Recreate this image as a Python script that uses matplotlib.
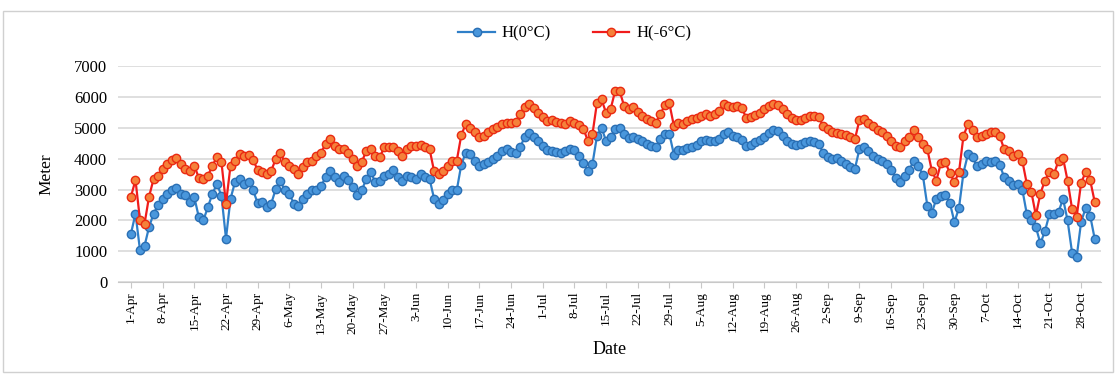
import numpy as np
import matplotlib.pyplot as plt
from matplotlib.patches import Rectangle

# Daily freezing level heights, 1-Apr to 31-Oct (meters)
h_0c = [1570, 2215, 1030, 1170, 1785, 2215, 2500, 2700, 2860, 2970,
        3050, 2860, 2830, 2580, 2750, 2100, 2000, 2430, 2860, 3180,
        2800, 1410, 2700, 3240, 3350, 3180, 3240, 2970, 2560, 2590,
        2430, 2540, 3020, 3290, 2970, 2860, 2540, 2480, 2700, 2860,
        2970, 3000, 3100, 3400, 3610, 3400, 3240, 3450, 3310, 3075,
        2810, 2970, 3340, 3560, 3240, 3290, 3450, 3500, 3630, 3400,
        3290, 3450, 3400, 3340, 3500, 3400, 3340, 2700, 2520, 2650,
        2860, 2970, 2970, 3800, 4200, 4150, 3930, 3770, 3830, 3880,
        3990, 4100, 4240, 4310, 4230, 4200, 4370, 4690, 4830, 4690,
        4580, 4420, 4290, 4260, 4230, 4170, 4240, 4310, 4280, 4100,
        3850, 3610, 3830, 4740, 5000, 4580, 4690, 4960, 5010, 4800,
        4670, 4710, 4630, 4560, 4490, 4420, 4370, 4630, 4800, 4800,
        4130, 4280, 4280, 4330, 4390, 4450, 4560, 4600, 4560, 4580,
        4630, 4800, 4850, 4740, 4710, 4600, 4420, 4450, 4550, 4610,
        4690, 4820, 4920, 4900, 4740, 4580, 4470, 4450, 4470, 4530,
        4560, 4530, 4470, 4200, 4040, 3990, 4020, 3910, 3830, 3740,
        3670, 4310, 4370, 4240, 4100, 3990, 3930, 3830, 3630, 3370,
        3240, 3450, 3630, 3930, 3770, 3480, 2480, 2240, 2700, 2790,
        2810, 2560, 1940, 2400, 3550, 4150, 4040, 3750, 3830, 3910,
        3880, 3930, 3800, 3400, 3290, 3150, 3180, 3000, 2200, 2000,
        1780, 1250, 1650, 2200, 2220, 2270, 2700, 2000, 950, 800,
        1950, 2400, 2150, 1400]

h_m6c = [2770, 3310, 2000, 1890, 2770, 3340, 3450, 3670, 3830, 3960,
         4020, 3830, 3670, 3610, 3770, 3380, 3340, 3450, 3770, 4060,
         3880, 2540, 3770, 3930, 4150, 4100, 4130, 3960, 3630, 3560,
         3500, 3610, 3990, 4200, 3880, 3770, 3670, 3500, 3720, 3880,
         3930, 4100, 4200, 4470, 4630, 4420, 4310, 4310, 4200, 3990,
         3770, 3880, 4260, 4310, 4100, 4060, 4370, 4390, 4370, 4260,
         4100, 4310, 4420, 4420, 4450, 4370, 4310, 3590, 3500, 3590,
         3770, 3910, 3930, 4760, 5130, 5010, 4850, 4690, 4740, 4880,
         4960, 5030, 5120, 5170, 5150, 5200, 5440, 5680, 5760, 5630,
         5490, 5350, 5230, 5250, 5200, 5170, 5140, 5230, 5170, 5090,
         4960, 4580, 4800, 5820, 5920, 5490, 5600, 6190, 6190, 5710,
         5600, 5680, 5520, 5390, 5280, 5230, 5170, 5440, 5740, 5790,
         5060, 5170, 5120, 5230, 5280, 5330, 5390, 5440, 5390, 5440,
         5550, 5760, 5700, 5680, 5700, 5630, 5330, 5350, 5420, 5490,
         5600, 5710, 5760, 5730, 5600, 5440, 5330, 5250, 5250, 5310,
         5380, 5390, 5350, 5060, 4960, 4880, 4820, 4800, 4760, 4710,
         4630, 5250, 5280, 5170, 5060, 4920, 4850, 4740, 4580, 4420,
         4370, 4580, 4710, 4940, 4690, 4470, 4310, 3610, 3290, 3850,
         3880, 3530, 3240, 3560, 4740, 5130, 4940, 4710, 4740, 4800,
         4850, 4880, 4740, 4300, 4240, 4100, 4150, 3930, 3180, 2920,
         2160, 2870, 3290, 3560, 3500, 3930, 4020, 3290, 2370, 2100,
         3220, 3560, 3300, 2600]

tick_labels = ['1-Apr', '8-Apr', '15-Apr', '22-Apr', '29-Apr', '6-May', '13-May',
               '20-May', '27-May', '3-Jun', '10-Jun', '17-Jun', '24-Jun', '1-Jul',
               '8-Jul', '15-Jul', '22-Jul', '29-Jul', '5-Aug', '12-Aug', '19-Aug',
               '26-Aug', '2-Sep', '9-Sep', '16-Sep', '23-Sep', '30-Sep', '7-Oct',
               '14-Oct', '21-Oct', '28-Oct']

plt.rcParams['font.family'] = ['Liberation Serif', 'DejaVu Serif']

days = np.arange(len(h_0c))

fig = plt.figure(figsize=(11.16, 3.76), dpi=100)
ax = fig.add_axes([0.106, 0.25, 0.881, 0.574])

ax.plot(days, h_0c, color='#2f7fc8', lw=1.6, marker='o', ms=6,
        mfc='#4a97dc', mec='#2a6fb4', mew=1.0, label='H(0°C)')
ax.plot(days, h_m6c, color='#f01c1c', lw=1.6, marker='o', ms=6,
        mfc='#f5813a', mec='#ea2a12', mew=1.0, label='H(-6°C)')

ax.set_xlim(-2.8, 214.5)
ax.set_ylim(0, 7000)
ax.set_yticks(np.arange(0, 7001, 1000))
ax.set_xticks(np.arange(0, 7 * len(tick_labels), 7))
ax.set_xticklabels(tick_labels, rotation=90, fontsize=9.5)
ax.tick_params(axis='y', length=0, labelsize=12, pad=8)
ax.tick_params(axis='x', length=4, color='#c8c8c8', pad=3)
ax.grid(axis='y', color='#d9d9d9', lw=1.2)
ax.set_axisbelow(True)
for s in ['top', 'right', 'left']:
    ax.spines[s].set_visible(False)
ax.spines['bottom'].set_color('#c8c8c8')

ax.set_ylabel('Meter', fontsize=12.5, labelpad=14)
ax.set_xlabel('Date', fontsize=13, labelpad=5)

fig.legend(loc='center', bbox_to_anchor=(0.515, 0.91), ncol=2, frameon=False,
           fontsize=12, handlelength=2.2, columnspacing=2.5, handletextpad=0.4)

fig.patches.append(Rectangle((0.003, 0.01), 0.994, 0.962, transform=fig.transFigure,
                             fill=False, edgecolor='#d0d0d0', lw=1))

fig.savefig('out.png', dpi=100)
